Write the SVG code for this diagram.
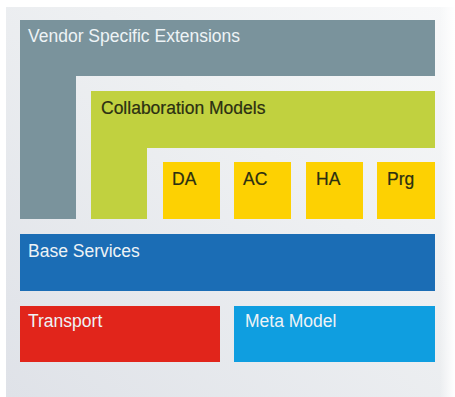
<svg xmlns="http://www.w3.org/2000/svg" width="455" height="397" viewBox="0 0 455 397">
<defs>
<linearGradient id="bg" x1="0" y1="1" x2="1" y2="0">
<stop offset="0" stop-color="#dfe2e8"/>
<stop offset="0.6" stop-color="#eef0f2"/>
<stop offset="1" stop-color="#f7f8f9"/>
</linearGradient>
<linearGradient id="fade" x1="0" y1="0" x2="1" y2="0">
<stop offset="0" stop-color="#ffffff" stop-opacity="0"/>
<stop offset="1" stop-color="#ffffff" stop-opacity="1"/>
</linearGradient>
<style>
text{font-family:"Liberation Sans",Arial,sans-serif;font-size:17.5px}
.light{fill:#eef3f6}
.dark{fill:#2b2f12;stroke:#2b2f12;stroke-width:0.2}
.vendor{fill:#7a939c}
.collab{fill:#c1d13f}
.comp{fill:#fdd102}
.base{fill:#1b6db5}
.transport{fill:#e1251b}
.meta{fill:#0f9ee0}
</style>
</defs>
<rect x="0" y="0" width="455" height="397" fill="#ffffff"/>
<rect x="6" y="7" width="449" height="390" fill="url(#bg)"/>
<rect x="440" y="0" width="15" height="397" fill="url(#fade)"/>
<g id="vendor-specific-extensions">
<path class="vendor" d="M20,20 H435 V76 H76 V219 H20 Z"/>
<text class="light" x="28" y="42">Vendor Specific Extensions</text>
</g>
<g id="collaboration-models">
<path class="collab" d="M91,91 H435 V148 H147 V219 H91 Z"/>
<text class="dark" x="101" y="114">Collaboration Models</text>
</g>
<g id="da">
<rect class="comp" x="163" y="162" width="57" height="57"/>
<text class="dark" x="172" y="185">DA</text>
</g>
<g id="ac">
<rect class="comp" x="234" y="162" width="57" height="57"/>
<text class="dark" x="243" y="185">AC</text>
</g>
<g id="ha">
<rect class="comp" x="306" y="162" width="57" height="57"/>
<text class="dark" x="316" y="185">HA</text>
</g>
<g id="prg">
<rect class="comp" x="377" y="162" width="58" height="57"/>
<text class="dark" x="387" y="185">Prg</text>
</g>
<g id="base-services">
<rect class="base" x="20" y="234" width="415" height="57"/>
<text class="light" x="28" y="257">Base Services</text>
</g>
<g id="transport">
<rect class="transport" x="20" y="306" width="200" height="56"/>
<text class="light" x="28" y="327">Transport</text>
</g>
<g id="meta-model">
<rect class="meta" x="234" y="306" width="201" height="56"/>
<text class="light" x="245" y="327">Meta Model</text>
</g>
<g id="connectors"/>
</svg>
